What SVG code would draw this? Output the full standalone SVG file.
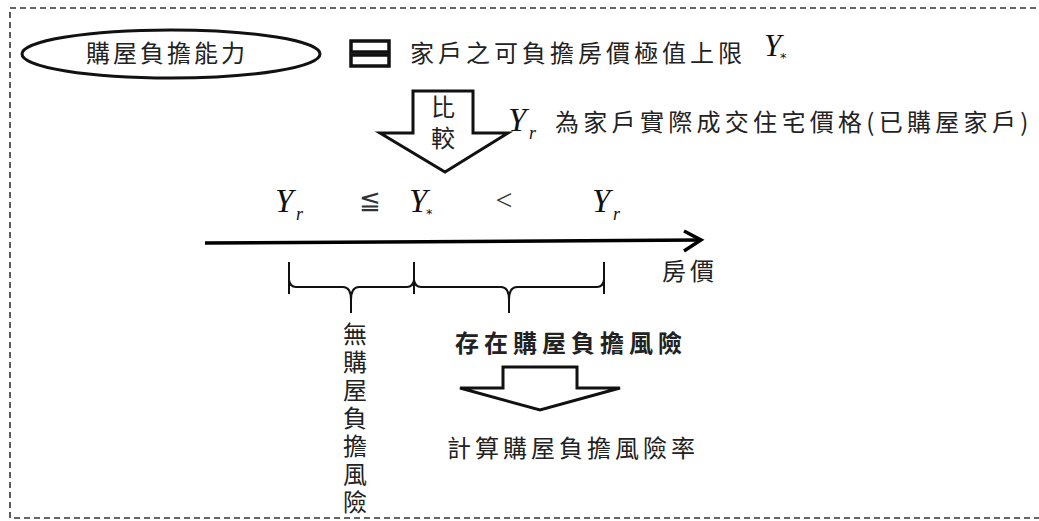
<svg xmlns="http://www.w3.org/2000/svg" width="1039" height="521" viewBox="0 0 1039 521">
<style>
.cjk{font-family:"Noto Sans CJK TC","Noto Sans CJK SC",sans-serif;fill:#222;font-size:24px}
.math{font-family:"Liberation Serif",serif;font-style:italic;fill:#111}
.ast{font-family:"DejaVu Sans",sans-serif;fill:#111}
.ln{fill:none;stroke:#111;stroke-width:2}
.bl{fill:#fff;stroke:#111;stroke-width:3;stroke-linejoin:miter}
</style>
<rect x="10" y="8" width="1040" height="510" fill="none" stroke="#333" stroke-width="1.6" stroke-dasharray="6,4"/>

<g id="node-ability">
<ellipse cx="171" cy="54" rx="149" ry="24" class="bl" stroke-width="2.6"/>
<text x="167" y="62" class="cjk" text-anchor="middle" letter-spacing="3">購屋負擔能力</text>
</g>

<g id="node-legend">
<rect x="351" y="41" width="38" height="11" fill="none" stroke="#111" stroke-width="3.5"/>
<rect x="351" y="55" width="38" height="11" fill="none" stroke="#111" stroke-width="3.5"/>
<text x="410" y="62" class="cjk" letter-spacing="4">家戶之可負擔房價極值上限</text>
<text x="764" y="56" class="math" font-size="31">Y</text>
<text x="780" y="62" class="ast" font-size="13">*</text>
</g>

<g id="node-compare">
<path d="M413,91 H473 V133 H508 L445,172 L380,133 H413 Z" class="bl"/>
<text x="443" y="95" class="cjk" writing-mode="vertical-rl" letter-spacing="7">比較</text>
</g>

<g id="node-yr-def">
<text x="508" y="131" class="math" font-size="33">Y</text>
<text x="529" y="139" class="math" font-size="18">r</text>
<text x="555" y="131" class="cjk" font-size="26" letter-spacing="4.3">為家戶實際成交住宅價格(已購屋家戶)</text>
</g>

<g id="node-inequality">
<text x="275" y="212" class="math" font-size="33">Y</text>
<text x="296" y="220" class="math" font-size="18">r</text>
<text x="370" y="209" font-family="Liberation Serif,serif" font-size="26" fill="#333" text-anchor="middle">≦</text>
<text x="409" y="212" class="math" font-size="33">Y</text>
<text x="426" y="218" class="ast" font-size="13">*</text>
<text x="504" y="210" font-family="Liberation Serif,serif" font-size="30" fill="#333" text-anchor="middle">&lt;</text>
<text x="592" y="212" class="math" font-size="33">Y</text>
<text x="613" y="220" class="math" font-size="18">r</text>
</g>

<g id="node-price">
<text x="662" y="280" class="cjk" letter-spacing="4">房價</text>
</g>

<g id="node-no-risk">
<text x="355" y="322" class="cjk" font-size="23" writing-mode="vertical-rl" letter-spacing="4">無購屋負擔風險</text>
</g>

<g id="node-risk">
<text x="455" y="352" class="cjk" font-size="22" font-weight="bold" letter-spacing="5">存在購屋負擔風險</text>
</g>

<g id="node-risk-arrow">
<path d="M503,367 H577 V388 H620 L540,410 L460,388 H503 Z" class="bl"/>
</g>

<g id="node-rate">
<text x="447" y="457" class="cjk" letter-spacing="4">計算購屋負擔風險率</text>
</g>

<g id="connectors">
<path d="M205,243 L698,240" fill="none" stroke="#000" stroke-width="3.5"/>
<path d="M684,231 L701,240 L684,251" fill="none" stroke="#000" stroke-width="3.5" stroke-linejoin="miter"/>
<path class="ln" d="M289,262 V294"/>
<path class="ln" d="M414,262 V294"/>
<path class="ln" d="M604,262 V294"/>
<path class="ln" stroke-width="1.6" d="M289,280 Q290,287 296,287 H343 Q351,287 351,300 V313 M351,300 Q351,287 359,287 H407 Q413,287 414,280"/>
<path class="ln" stroke-width="1.6" d="M414,280 Q415,287 421,287 H501 Q509,287 509,300 V313 M509,300 Q509,287 517,287 H597 Q603,287 604,280"/>
</g>
</svg>
